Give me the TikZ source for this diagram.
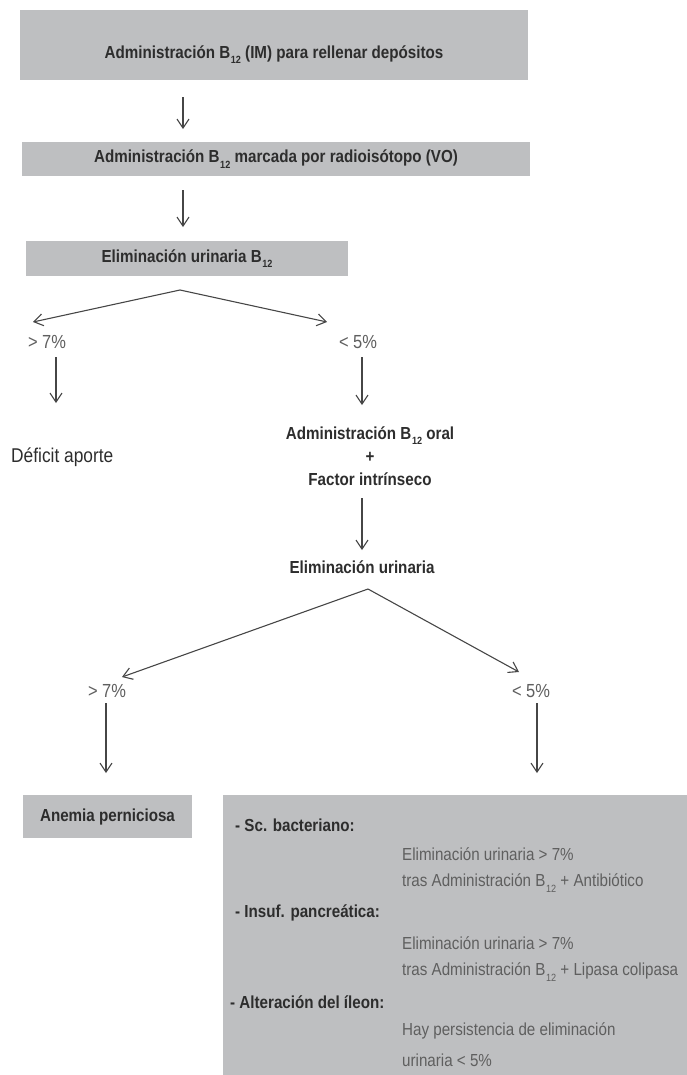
\documentclass[tikz,border=0pt]{standalone}
\usepackage{fontspec}
\setmainfont{Liberation Sans}[FakeStretch=0.87]
\usetikzlibrary{arrows.meta}

\definecolor{boxgris}{RGB}{190,191,193}
\definecolor{tinta}{RGB}{45,45,45}
\definecolor{tenue}{RGB}{95,95,95}
\definecolor{flechagris}{RGB}{70,70,70}
\newcommand{\Bdoce}{B\kern0.6pt\raisebox{-0.6ex}{\fontsize{10.5}{10.5}\selectfont 12}}

\begin{document}
\begin{tikzpicture}[x=1bp,y=-1bp,
  caja/.style={fill=boxgris,text=tinta,inner sep=0pt,
    font=\fontsize{17.5}{21}\selectfont\bfseries},
  negrita/.style={text=tinta,inner sep=0pt,
    font=\fontsize{17.5}{23}\selectfont\bfseries},
  ligero/.style={text=tenue,inner sep=0pt,
    font=\fontsize{17.5}{21}\selectfont},
  porcentaje/.style={ligero,font=\fontsize{19}{21}\selectfont},
  flecha/.style={draw=flechagris,line width=1.1pt,
    -{Straight Barb[length=9pt,width=12pt]}}]
  \useasboundingbox (0,0) rectangle (687,1075);

  % cajas de arriba
  \node[caja,minimum width=508bp,minimum height=70bp,text height=30bp,text depth=4bp]
    (deposito) at (274,45) {Administración \Bdoce\ (IM) para rellenar depósitos};
  \node[caja,minimum width=508bp,minimum height=34bp]
    (marcada) at (276,159) {Administración \Bdoce\ marcada por radioisótopo (VO)};
  \node[caja,minimum width=322bp,minimum height=35bp]
    (elimB) at (187,258.5) {Eliminación urinaria \Bdoce};

  \coordinate (f1a) at (183,97);
  \coordinate (f1b) at (183,129);
  \coordinate (f2a) at (183,190);
  \coordinate (f2b) at (183,227);
  \draw[flecha] (f1a) -- (f1b);
  \draw[flecha] (f2a) -- (f2b);

  % primera bifurcacion
  \coordinate (r1) at (180,290);
  \coordinate (r1i) at (33,322);
  \coordinate (r1d) at (327,322);
  \draw[flecha] (r1) -- (r1i);
  \draw[flecha] (r1) -- (r1d);

  \node[porcentaje] (mayor1) at (47,342) {> 7\%};
  \node[porcentaje] (menor1) at (358,342) {< 5\%};

  \coordinate (f3a) at (56,357);
  \coordinate (f3b) at (56,403);
  \coordinate (f4a) at (362,357);
  \coordinate (f4b) at (362,405);
  \draw[flecha] (f3a) -- (f3b);
  \draw[flecha] (f4a) -- (f4b);

  \node[anchor=west,text=tinta,inner sep=0pt,font=\fontsize{20}{24}\selectfont]
    (deficit) at (11,457) {Déficit aporte};
  \node[negrita,align=center] (oral) at (370,456)
    {Administración \Bdoce\ oral\\+\\Factor intrínseco};

  \coordinate (f5a) at (362,498);
  \coordinate (f5b) at (362,550);
  \draw[flecha] (f5a) -- (f5b);

  \node[negrita] (elim) at (362,567) {Eliminación urinaria};

  % segunda bifurcacion
  \coordinate (r2) at (368,589);
  \coordinate (r2i) at (122,677);
  \coordinate (r2d) at (519,672);
  \draw[flecha] (r2) -- (r2i);
  \draw[flecha] (r2) -- (r2d);

  \node[porcentaje] (mayor2) at (107,691) {> 7\%};
  \node[porcentaje] (menor2) at (531,691) {< 5\%};

  \coordinate (f6a) at (106,703);
  \coordinate (f6b) at (106,773);
  \coordinate (f7a) at (537,703);
  \coordinate (f7b) at (537,773);
  \draw[flecha] (f6a) -- (f6b);
  \draw[flecha] (f7a) -- (f7b);

  % resultados
  \node[caja,minimum width=169bp,minimum height=43bp]
    (anemia) at (107.5,816.5) {Anemia perniciosa};
  \node[fill=boxgris,inner sep=0pt,minimum width=464bp,minimum height=280bp]
    (causas) at (455,935) {};

  \node[negrita,anchor=west] (sc) at (235,825) {- Sc. bacteriano:};
  \node[ligero,anchor=west] (sc1) at (402,854) {Eliminación urinaria > 7\%};
  \node[ligero,anchor=west] (sc2) at (402,883) {tras Administración \Bdoce\ + Antibiótico};
  \node[negrita,anchor=west] (ip) at (235,913) {- Insuf. pancreática:};
  \node[ligero,anchor=west] (ip1) at (402,943) {Eliminación urinaria > 7\%};
  \node[ligero,anchor=west] (ip2) at (402,972) {tras Administración \Bdoce\ + Lipasa colipasa};
  \node[negrita,anchor=west] (il) at (230,1002) {- Alteración del íleon:};
  \node[ligero,anchor=west] (il1) at (402,1031) {Hay persistencia de eliminación};
  \node[ligero,anchor=west] (il2) at (402,1060) {urinaria < 5\%};
\end{tikzpicture}
\end{document}
